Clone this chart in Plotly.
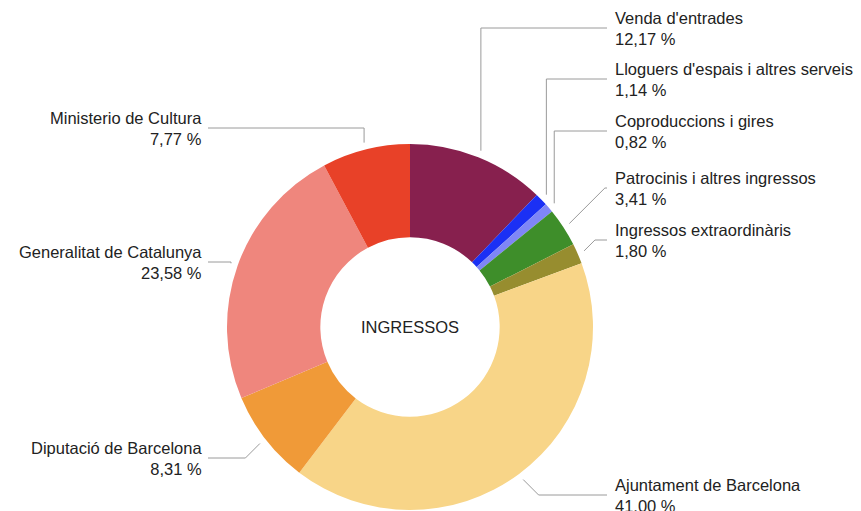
import math
import plotly.graph_objects as go

# ---------------- data ----------------
categories = [
    "Venda d'entrades",
    "Lloguers d'espais i altres serveis",
    "Coproduccions i gires",
    "Patrocinis i altres ingressos",
    "Ingressos extraordinàris",
    "Ajuntament de Barcelona",
    "Diputació de Barcelona",
    "Generalitat de Catalunya",
    "Ministerio de Cultura",
]
values = [12.17, 1.14, 0.82, 3.41, 1.80, 41.00, 8.31, 23.58, 7.77]
center_title = "INGRESSOS"

# ---------------- styles / layout ----------------
colors = ["#87204E", "#1B30F5", "#7F86F6", "#3E8E2A", "#978D2F",
          "#F8D588", "#F09A38", "#EF867D", "#E84128"]
W, H = 861, 511
CX, CY, R = 410, 327, 183          # pie centre / radius in pixels
HOLE = 0.49
FONT = "Liberation Sans, Arial, sans-serif"
FSIZE = 16.5
TXT = "#222222"
LINE = "#9a9a9a"
RIGHT_END, LEFT_END = 607, 208     # where leader lines meet the labels
RIGHT_TXT, LEFT_TXT = 613, 204
# label row (pixel y) and elbow style per category
label_rows = {
    "Venda d'entrades": (28, "v"),
    "Lloguers d'espais i altres serveis": (79, "v"),
    "Coproduccions i gires": (131, "v"),
    "Patrocinis i altres ingressos": (188, "d"),
    "Ingressos extraordinàris": (240, "d"),
    "Ajuntament de Barcelona": (495, "d"),
    "Diputació de Barcelona": (458, "d"),
    "Generalitat de Catalunya": (262, "v"),
    "Ministerio de Cultura": (128, "v"),
}


def px(x):
    return x / W


def py(y):
    return 1 - y / H


fig = go.Figure(go.Pie(
    labels=categories,
    values=values,
    sort=False,
    direction="clockwise",
    rotation=0,
    hole=HOLE,
    marker=dict(colors=colors, line=dict(width=0)),
    textinfo="none",
    hoverinfo="label+percent",
    showlegend=False,
    domain=dict(x=[px(CX - R), px(CX + R)], y=[py(CY + R), py(CY - R)]),
))

total = sum(values)
cum = 0.0
shapes, annotations = [], []
for name, v in zip(categories, values):
    theta = 2 * math.pi * (cum + v / 2) / total
    cum += v
    s, c = math.sin(theta), math.cos(theta)
    r0 = R + 7
    sx, sy = CX + s * r0, CY - c * r0
    ly, style = label_rows[name]
    right = s >= 0
    sign = 1 if right else -1
    if style == "d":
        ex = sx + sign * abs(ly - sy)
    else:
        ex = sx
    endx = RIGHT_END if right else LEFT_END
    path = f"M {px(sx)} {py(sy)} L {px(ex)} {py(ly)} L {px(endx)} {py(ly)}"
    shapes.append(dict(type="path", xref="paper", yref="paper", path=path,
                       line=dict(color=LINE, width=1)))
    pct = f"{v / total * 100:.2f}".replace(".", ",") + " %"
    annotations.append(dict(
        x=px(RIGHT_TXT if right else LEFT_TXT), y=py(ly),
        xref="paper", yref="paper",
        xanchor="left" if right else "right", yanchor="middle",
        align="left" if right else "right",
        text=f"{name}<br>{pct}", showarrow=False,
        font=dict(family=FONT, size=FSIZE, color=TXT),
    ))

annotations.append(dict(
    x=px(CX), y=py(CY), xref="paper", yref="paper",
    xanchor="center", yanchor="middle", text=center_title, showarrow=False,
    font=dict(family=FONT, size=FSIZE, color=TXT),
))

fig.update_layout(
    width=W, height=H,
    margin=dict(l=0, r=0, t=0, b=0),
    paper_bgcolor="white", plot_bgcolor="white",
    shapes=shapes, annotations=annotations,
    font=dict(family=FONT, size=FSIZE, color=TXT),
)

fig.write_html(
    "out.html",
    config={"displayModeBar": False},
    post_script="document.body.style.margin='0';document.body.style.overflow='hidden';",
)
